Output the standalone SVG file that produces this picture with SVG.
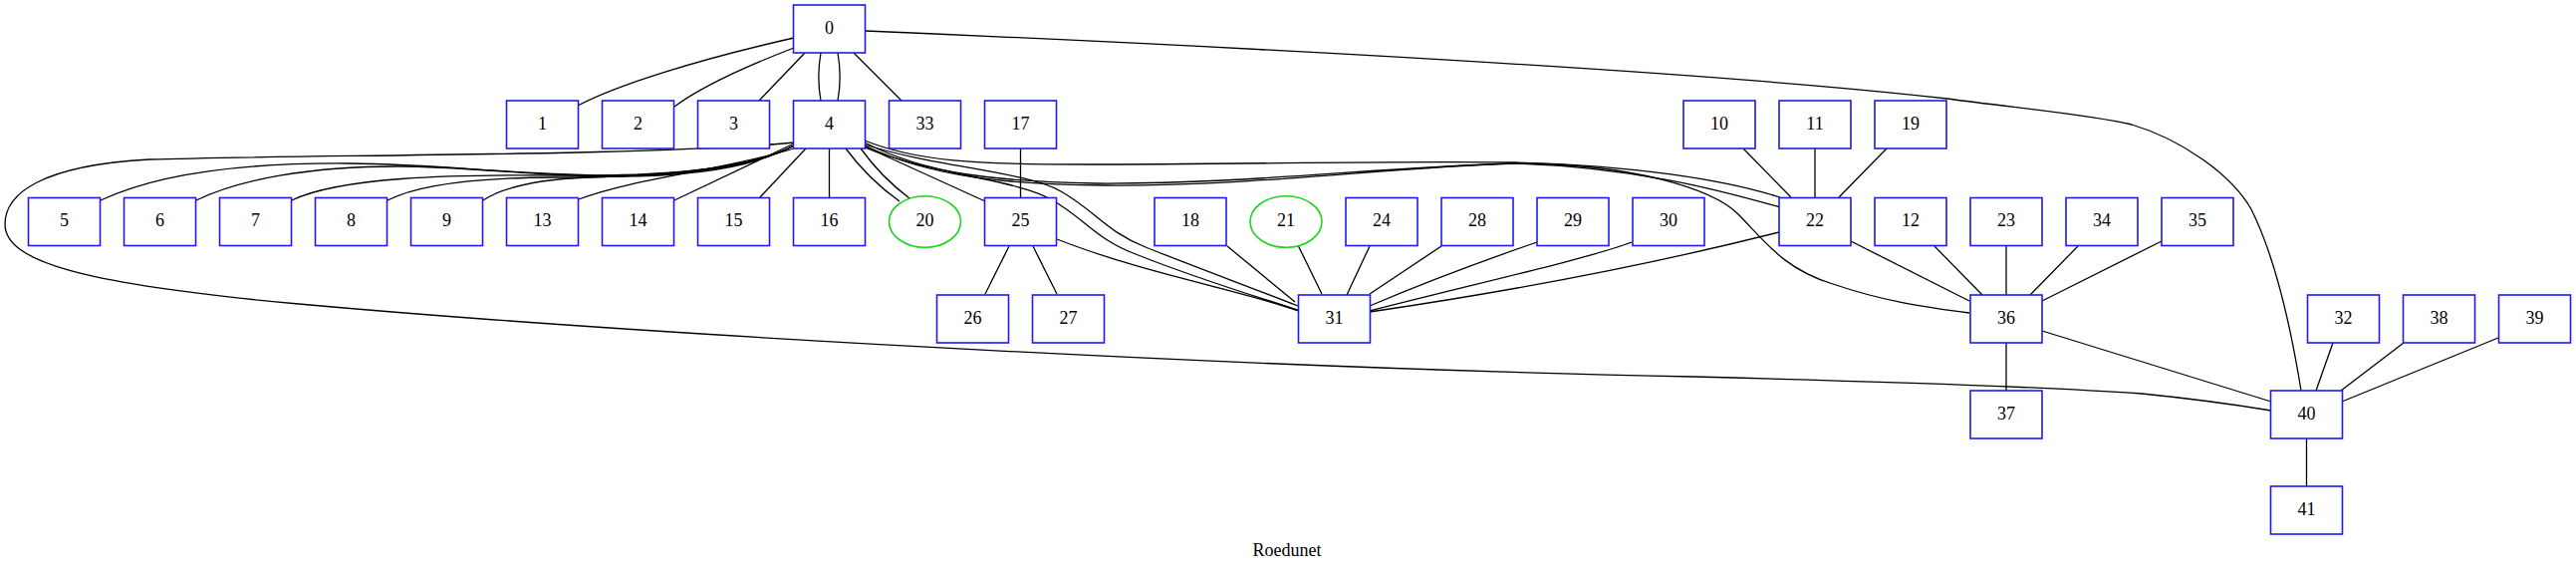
<svg xmlns="http://www.w3.org/2000/svg" width="2586" height="577" viewBox="0 0 2586 577">
<style>
.n rect{fill:#fff;stroke:#1c1cf0;stroke-width:1.6}
.n ellipse{fill:#fff;stroke:#1ed41e;stroke-width:1.6}
.n text,.t{font-family:"Liberation Serif","Times New Roman",serif;font-size:18px;fill:#000;text-anchor:middle}
#edges path{fill:none;stroke:#000;stroke-width:1.3}
</style>
<rect width="2586" height="577" fill="#fff"/>
<g id="edges">
<!-- from 0 -->
<path d="M797,38 C 700,60 620,85 580,106"/>
<path d="M797,48 C 740,70 700,90 677,107"/>
<path d="M808,53 L762,101"/>
<path d="M824,53 C 821,70 821,85 824,101"/>
<path d="M841,53 C 844,70 844,85 841,101"/>
<path d="M857,53 L905,101"/>
<path d="M869,31 C 1200,45 1700,70 1955,99 C 2020,108 2100,115 2140,125 C 2190,140 2240,175 2260,210 C 2285,260 2300,330 2310,392"/>
<!-- from 4 left -->
<path d="M797,143 C 650,157 300,155 150,160 C 40,166 5,195 5,225 C 5,262 80,285 300,305 C 600,332 1200,368 1700,378 C 1900,383 2050,388 2150,395 C 2200,400 2250,407 2280,412"/>
<path d="M797,146 C 760,165 700,176 620,176 C 520,176 450,165 350,164 C 230,163 150,178 101,201"/>
<path d="M797,146 C 760,166 700,177 620,177 C 540,177 470,167 400,167 C 310,167 240,180 197,201"/>
<path d="M797,146 C 750,172 650,177 560,176 C 450,175 340,178 293,201"/>
<path d="M797,146 C 750,172 650,178 560,178 C 480,178 420,185 389,201"/>
<path d="M797,146 C 750,172 650,176 590,178 C 540,180 505,188 485,201"/>
<path d="M797,149 C 730,170 640,178 581,200"/>
<path d="M797,144 L677,201"/>
<path d="M809,149 L762,199"/>
<path d="M832.5,149 L832.5,198"/>
<!-- from 4 right -->
<path d="M849,149 Q 872,180 903,202"/>
<path d="M864,149 Q 885,178 913,199"/>
<path d="M868,147 L989,202"/>
<path d="M868,145 C 940,168 1030,172 1065,192 C 1100,212 1110,232 1150,248 C 1200,268 1260,290 1303,307"/>
<path d="M868,148 C 935,175 1020,180 1055,200 C 1090,220 1100,240 1140,255 C 1190,275 1255,296 1303,311"/>
<path d="M868,141 C 920,162 980,165 1090,165 C 1250,165 1400,161 1520,163 C 1640,166 1730,180 1787,198"/>
<path d="M868,143 C 930,175 1000,182 1100,184 C 1250,185 1380,168 1520,164 C 1650,168 1740,195 1787,208"/>
<path d="M868,146 C 935,178 1010,185 1110,186 C 1260,187 1390,168 1520,164 C 1640,164 1720,190 1745,215 C 1770,240 1790,270 1840,285 C 1890,302 1930,308 1977,314"/>
<!-- 25 -->
<path d="M1024.5,149 L1024.5,198"/>
<path d="M1013,247 L989,295"/>
<path d="M1037,247 L1061,295"/>
<path d="M1061,240 C 1150,275 1250,292 1303,312"/>
<!-- 31 -->
<path d="M1232,247 L1300,303"/>
<path d="M1303,246 L1327,295"/>
<path d="M1375,247 L1352,296"/>
<path d="M1447,247 L1375,295"/>
<path d="M1543,243 Q 1450,275 1375,307"/>
<path d="M1638,243 C 1600,258 1480,285 1375,312"/>
<path d="M1786,233 Q 1600,280 1375,313"/>
<!-- 22 -->
<path d="M1750,149 L1798,198"/>
<path d="M1822,149 L1822,198"/>
<path d="M1894,149 L1846,198"/>
<path d="M1858,242 L1977,302"/>
<!-- 36 -->
<path d="M1942,247 L1990,296"/>
<path d="M2014,247 L2014,296"/>
<path d="M2086,247 L2038,296"/>
<path d="M2170,242 L2050,302"/>
<path d="M2014,344 L2014,392"/>
<path d="M2050,332 L2280,403"/>
<!-- 40 -->
<path d="M2342,344 L2325,392"/>
<path d="M2413,344 L2350,392"/>
<path d="M2508,339 L2351,403"/>
<path d="M2315.5,440 L2315.5,488"/>
</g>
<g id="n0" class="n"><rect x="796.5" y="5" width="72" height="48"/><text x="832.5" y="33.5">0</text></g>
<g id="n1" class="n"><rect x="508.5" y="101" width="72" height="48"/><text x="544.5" y="129.5">1</text></g>
<g id="n2" class="n"><rect x="604.5" y="101" width="72" height="48"/><text x="640.5" y="129.5">2</text></g>
<g id="n3" class="n"><rect x="700.5" y="101" width="72" height="48"/><text x="736.5" y="129.5">3</text></g>
<g id="n4" class="n"><rect x="796.5" y="101" width="72" height="48"/><text x="832.5" y="129.5">4</text></g>
<g id="n33" class="n"><rect x="892.5" y="101" width="72" height="48"/><text x="928.5" y="129.5">33</text></g>
<g id="n17" class="n"><rect x="988.5" y="101" width="72" height="48"/><text x="1024.5" y="129.5">17</text></g>
<g id="n10" class="n"><rect x="1690" y="101" width="72" height="48"/><text x="1726" y="129.5">10</text></g>
<g id="n11" class="n"><rect x="1786" y="101" width="72" height="48"/><text x="1822" y="129.5">11</text></g>
<g id="n19" class="n"><rect x="1882" y="101" width="72" height="48"/><text x="1918" y="129.5">19</text></g>
<g id="n5" class="n"><rect x="28.5" y="198.5" width="72" height="48"/><text x="64.5" y="227">5</text></g>
<g id="n6" class="n"><rect x="124.5" y="198.5" width="72" height="48"/><text x="160.5" y="227">6</text></g>
<g id="n7" class="n"><rect x="220.5" y="198.5" width="72" height="48"/><text x="256.5" y="227">7</text></g>
<g id="n8" class="n"><rect x="316.5" y="198.5" width="72" height="48"/><text x="352.5" y="227">8</text></g>
<g id="n9" class="n"><rect x="412.5" y="198.5" width="72" height="48"/><text x="448.5" y="227">9</text></g>
<g id="n13" class="n"><rect x="508.5" y="198.5" width="72" height="48"/><text x="544.5" y="227">13</text></g>
<g id="n14" class="n"><rect x="604.5" y="198.5" width="72" height="48"/><text x="640.5" y="227">14</text></g>
<g id="n15" class="n"><rect x="700.5" y="198.5" width="72" height="48"/><text x="736.5" y="227">15</text></g>
<g id="n16" class="n"><rect x="796.5" y="198.5" width="72" height="48"/><text x="832.5" y="227">16</text></g>
<g id="n20" class="n"><ellipse cx="928.5" cy="222.5" rx="36" ry="25.8"/><text x="928.5" y="227">20</text></g>
<g id="n25" class="n"><rect x="988.5" y="198.5" width="72" height="48"/><text x="1024.5" y="227">25</text></g>
<g id="n18" class="n"><rect x="1159" y="198.5" width="72" height="48"/><text x="1195" y="227">18</text></g>
<g id="n21" class="n"><ellipse cx="1291" cy="222.5" rx="36" ry="25.8"/><text x="1291" y="227">21</text></g>
<g id="n24" class="n"><rect x="1351" y="198.5" width="72" height="48"/><text x="1387" y="227">24</text></g>
<g id="n28" class="n"><rect x="1447" y="198.5" width="72" height="48"/><text x="1483" y="227">28</text></g>
<g id="n29" class="n"><rect x="1543" y="198.5" width="72" height="48"/><text x="1579" y="227">29</text></g>
<g id="n30" class="n"><rect x="1639" y="198.5" width="72" height="48"/><text x="1675" y="227">30</text></g>
<g id="n22" class="n"><rect x="1786" y="198.5" width="72" height="48"/><text x="1822" y="227">22</text></g>
<g id="n12" class="n"><rect x="1882" y="198.5" width="72" height="48"/><text x="1918" y="227">12</text></g>
<g id="n23" class="n"><rect x="1978" y="198.5" width="72" height="48"/><text x="2014" y="227">23</text></g>
<g id="n34" class="n"><rect x="2074" y="198.5" width="72" height="48"/><text x="2110" y="227">34</text></g>
<g id="n35" class="n"><rect x="2170" y="198.5" width="72" height="48"/><text x="2206" y="227">35</text></g>
<g id="n26" class="n"><rect x="940.5" y="296" width="72" height="48"/><text x="976.5" y="324.5">26</text></g>
<g id="n27" class="n"><rect x="1036.5" y="296" width="72" height="48"/><text x="1072.5" y="324.5">27</text></g>
<g id="n31" class="n"><rect x="1303.5" y="296" width="72" height="48"/><text x="1339.5" y="324.5">31</text></g>
<g id="n36" class="n"><rect x="1978" y="296" width="72" height="48"/><text x="2014" y="324.5">36</text></g>
<g id="n32" class="n"><rect x="2316.5" y="296" width="72" height="48"/><text x="2352.5" y="324.5">32</text></g>
<g id="n38" class="n"><rect x="2412.5" y="296" width="72" height="48"/><text x="2448.5" y="324.5">38</text></g>
<g id="n39" class="n"><rect x="2508.5" y="296" width="72" height="48"/><text x="2544.5" y="324.5">39</text></g>
<g id="n37" class="n"><rect x="1978" y="392" width="72" height="48"/><text x="2014" y="420.5">37</text></g>
<g id="n40" class="n"><rect x="2279.5" y="392" width="72" height="48"/><text x="2315.5" y="420.5">40</text></g>
<g id="n41" class="n"><rect x="2279.5" y="488" width="72" height="48"/><text x="2315.5" y="516.5">41</text></g>
<text class="t" x="1292" y="558">Roedunet</text>
</svg>
